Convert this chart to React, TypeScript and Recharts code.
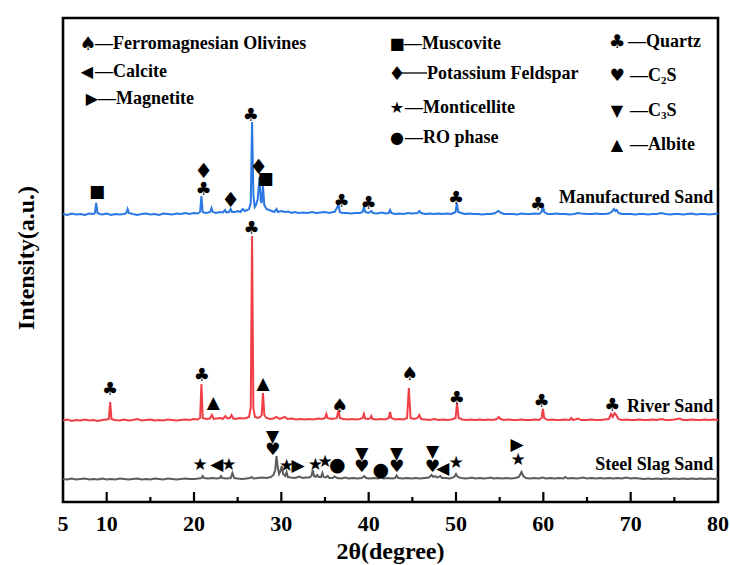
import React from 'react';
import {
  LineChart,
  Line,
  XAxis,
  YAxis,
  ReferenceDot,
  ReferenceArea,
  Customized,
} from 'recharts';

type Pt = [number, number];
type Mark = [number, number, string];

const SERIF = '"Liberation Serif", "Times New Roman", serif';
const SYMBOL_FONT = '"DejaVu Sans", sans-serif';

// 2θ axis
const TWO_THETA_TICKS = [5, 10, 15, 20, 25, 30, 35, 40, 45, 50, 55, 60, 65, 70, 75, 80];
const LABELLED_TICKS = [5, 10, 20, 30, 40, 50, 60, 70, 80];

// vertical stacking of the three patterns (a.u.)
const OFFSET_STEEL = 22;
const OFFSET_RIVER = 81;
const OFFSET_MANUFACTURED = 287;
const INTENSITY_MAX = 484;

// Manufactured sand pattern: [2θ, intensity]
const manufacturedSand: Pt[] = [
  [5, 1], [5.5, 0], [6, 1.5], [6.5, 0.5], [7, 1], [7.5, 0], [8, 1.5], [8.5, 1], [8.65, 2], [8.8, 12], [8.95, 2],
  [9.2, 1], [9.5, 0.5], [10, 1.5], [10.5, 0], [11, 1], [11.5, 0.5], [12, 1], [12.25, 2], [12.4, 6], [12.55, 2],
  [13, 1], [13.5, 0], [14, 1], [14.5, 1.5], [15, 0.5], [15.5, 1], [16, 0], [16.5, 1.5], [17, 1], [17.5, 0.5],
  [18, 1.5], [18.5, 1], [19, 2], [19.5, 1], [20, 2], [20.4, 1.5], [20.7, 3], [20.85, 19], [21, 3], [21.3, 2],
  [21.6, 2.5], [21.85, 3], [22.0, 7], [22.15, 3], [22.5, 2], [23, 3], [23.3, 2.5], [23.55, 5], [23.7, 2.5],
  [24.0, 3], [24.2, 6], [24.35, 3], [24.7, 3], [25, 4], [25.3, 3], [25.6, 6], [25.8, 4], [26.1, 5], [26.3, 6],
  [26.5, 12], [26.65, 93], [26.8, 20], [26.95, 8], [27.1, 10], [27.3, 16], [27.5, 38], [27.65, 14], [27.75, 12],
  [27.9, 29], [28.05, 10], [28.3, 6], [28.6, 5], [28.9, 4], [29.2, 3], [29.45, 6], [29.6, 3], [30, 4], [30.4, 3],
  [30.8, 3.5], [31.2, 2], [31.5, 3], [32, 2], [32.5, 2.5], [33, 2], [33.5, 3], [34, 2], [34.5, 2.5], [35, 3],
  [35.5, 2], [35.9, 3], [36.1, 3], [36.55, 10], [36.7, 3], [37, 2], [37.5, 2], [38, 1.5], [38.5, 2], [39, 2],
  [39.3, 3], [39.45, 8], [39.6, 3], [40, 2], [40.3, 4], [40.5, 2], [41, 1.5], [41.5, 2.5], [42, 1.5], [42.3, 2],
  [42.45, 5], [42.6, 2], [43, 1], [43.5, 1.5], [44, 1], [44.5, 2], [45, 1.5], [45.6, 2], [45.8, 4], [46, 2],
  [46.5, 1], [47, 1.5], [47.5, 1], [48, 1.5], [48.5, 1], [49, 1.5], [49.5, 1], [49.95, 3], [50.1, 12], [50.25, 3],
  [50.6, 2], [51, 1], [51.5, 1.5], [52, 1], [52.5, 1], [53, 0.5], [53.5, 1], [54, 1], [54.5, 2], [54.85, 4],
  [55.2, 2], [55.5, 1], [56, 1], [56.5, 1], [57, 0.5], [57.5, 1.5], [58, 1], [58.5, 1], [59, 1.5], [59.5, 1],
  [59.8, 3], [59.95, 9], [60.1, 3], [60.5, 1], [61, 1], [61.5, 1.5], [62, 1], [62.5, 1], [63, 0.5], [63.5, 1],
  [64, 2], [64.3, 1.5], [65, 1], [65.5, 1], [66, 1.5], [66.5, 1], [67, 1], [67.5, 1.5], [67.8, 3], [68.1, 6],
  [68.25, 4], [68.4, 5], [68.6, 2], [69, 1], [69.5, 1], [70, 1], [70.5, 0.5], [71, 1], [71.5, 1], [72, 0.5],
  [72.5, 1], [73, 1], [73.5, 2], [74, 1], [74.5, 0.5], [75, 1], [75.5, 1], [76, 0.5], [76.5, 1], [77, 1.5],
  [77.5, 0.5], [78, 1], [78.5, 1], [79, 0.5], [79.5, 1], [80, 1.5],
];

// River sand pattern: [2θ, intensity]
const riverSand: Pt[] = [
  [5, 0.5], [5.5, 1.5], [6, 0], [6.5, 1], [7, 0.5], [7.5, 1.5], [8, 0.5], [8.5, 1], [9, 0], [9.5, 1], [10, 1.5],
  [10.25, 2], [10.4, 19], [10.55, 2], [10.9, 1], [11.5, 0.5], [12, 1.5], [12.5, 0.5], [13, 1], [13.5, 2], [14, 0.5],
  [14.5, 1], [15, 1.5], [15.5, 0.5], [16, 1], [16.5, 0.5], [17, 1.5], [17.5, 1], [18, 0.5], [18.5, 1], [19, 1.5],
  [19.5, 1], [20, 2], [20.4, 1.5], [20.7, 3], [20.85, 37], [21.0, 3], [21.4, 2], [21.8, 2.5], [22.05, 6],
  [22.25, 2], [22.6, 2.5], [23, 3], [23.3, 2], [23.6, 5], [23.8, 2.5], [24.1, 3], [24.3, 6], [24.5, 2.5],
  [24.8, 2], [25.2, 3], [25.6, 2.5], [26.0, 3], [26.3, 4], [26.5, 14], [26.65, 185], [26.8, 12], [27.0, 4],
  [27.3, 3], [27.6, 4], [27.75, 6], [27.9, 28], [28.05, 6], [28.3, 3], [28.7, 2], [29.1, 2.5], [29.45, 4],
  [29.8, 2], [30.1, 3], [30.4, 4], [30.7, 2], [31.2, 2.5], [31.7, 1.5], [32.2, 2], [32.7, 1.5], [33.2, 2],
  [33.7, 1.5], [34.2, 2.5], [34.7, 2], [35.0, 3], [35.15, 7], [35.3, 3], [35.7, 2], [36.1, 2.5], [36.35, 3],
  [36.55, 11], [36.7, 3], [37.1, 2], [37.6, 1.5], [38.1, 2], [38.6, 1.5], [39.0, 2], [39.3, 3], [39.45, 7],
  [39.6, 2.5], [40.0, 2], [40.2, 3], [40.3, 5], [40.45, 2], [40.9, 1.5], [41.4, 2], [41.9, 1.5], [42.3, 3],
  [42.45, 9], [42.6, 3], [43.0, 1.5], [43.5, 2], [44.0, 1.5], [44.4, 3], [44.6, 33], [44.8, 3], [45.2, 2],
  [45.6, 3], [45.8, 6], [46.0, 2], [46.5, 1.5], [47, 1], [47.5, 2], [48, 1], [48.5, 1.5], [49, 1], [49.5, 1.5],
  [49.95, 3], [50.12, 18], [50.3, 3], [50.7, 1.5], [51.2, 1], [51.7, 1.5], [52.2, 1], [52.7, 1.5], [53.2, 1],
  [53.7, 1.5], [54.2, 1], [54.7, 2], [54.9, 4], [55.1, 2], [55.5, 1], [56, 1.5], [56.5, 1], [57, 1], [57.5, 1.5],
  [58, 1], [58.5, 1], [59, 1.5], [59.5, 1], [59.8, 3], [59.95, 12], [60.1, 3], [60.5, 1], [61, 1.5], [61.5, 1],
  [62, 1], [62.5, 1.5], [63.0, 1], [63.2, 3], [63.4, 1], [64.0, 2.5], [64.3, 1], [65, 1], [65.5, 1.5], [66, 1],
  [66.5, 1], [67, 1.5], [67.5, 2], [67.75, 7], [67.95, 4], [68.15, 8], [68.35, 6], [68.6, 2], [69, 1],
  [69.5, 1.5], [70, 1], [70.5, 1], [71, 1.5], [71.5, 1], [72, 1], [72.5, 1.5], [73, 1], [73.5, 2], [74, 1],
  [74.5, 1], [75, 1.5], [75.6, 2.5], [76, 1], [76.5, 1], [77, 1.5], [77.5, 1], [78, 1], [78.5, 1.5], [79, 1],
  [79.5, 1.5], [80, 1],
];

// Steel slag sand pattern: [2θ, intensity]
const steelSlagSand: Pt[] = [
  [5, 1], [5.5, 0.5], [6, 1.5], [6.5, 0.5], [7, 1], [7.5, 1.5], [8, 0.5], [8.5, 1], [9, 0.5], [9.5, 1.5],
  [10, 0.5], [10.5, 1], [11, 0.5], [11.5, 1.5], [12, 1], [12.5, 0.5], [13, 1], [13.5, 1.5], [14, 0.5], [14.5, 1],
  [15, 0.5], [15.5, 1.5], [16, 1], [16.5, 0.5], [17, 1.5], [17.5, 1], [18, 0.5], [18.5, 1], [19, 1.5], [19.5, 1],
  [20, 1], [20.5, 1.5], [20.85, 2], [21.0, 4], [21.15, 2], [21.6, 1.5], [22.1, 2], [22.6, 1.5], [22.95, 2],
  [23.1, 4], [23.25, 2], [23.7, 1.5], [24.2, 2], [24.4, 7], [24.6, 2], [25, 1.5], [25.5, 1], [26, 1.5], [26.4, 2],
  [26.6, 3], [26.8, 1.5], [27.3, 2], [27.8, 2.5], [28.3, 2], [28.8, 3], [29.1, 5], [29.3, 10], [29.45, 24],
  [29.6, 12], [29.75, 6], [29.9, 9], [30.05, 14], [30.2, 6], [30.45, 4], [30.6, 8], [30.75, 3], [31.1, 2.5],
  [31.6, 2], [32.1, 3.5], [32.4, 2], [32.8, 2.5], [33.2, 2.5], [33.45, 4], [33.6, 10], [33.75, 4], [33.95, 3],
  [34.1, 5], [34.3, 3], [34.55, 3], [34.7, 7], [34.85, 3], [35.1, 2.5], [35.3, 4], [35.5, 2], [35.9, 2],
  [36.1, 3.5], [36.4, 2], [36.9, 1.5], [37.3, 2.5], [37.7, 1.5], [38.2, 2], [38.7, 1.5], [39.2, 2], [39.5, 4],
  [39.7, 2], [40.1, 1.5], [40.6, 2], [41.1, 1.5], [41.4, 2.5], [41.7, 1.5], [42.2, 2], [42.7, 1.5], [43.05, 2],
  [43.2, 4.5], [43.4, 2], [43.9, 1.5], [44.4, 2], [44.9, 1.5], [45.4, 2], [45.9, 1.5], [46.4, 2], [46.9, 2.5],
  [47.2, 5], [47.4, 3], [47.6, 4], [47.8, 2.5], [48.0, 3], [48.2, 4], [48.4, 2], [48.8, 2], [49.3, 1.5],
  [49.8, 3], [50.0, 6], [50.2, 3], [50.6, 2], [51.1, 1.5], [51.6, 2], [51.8, 2.5], [52.2, 1.5], [52.7, 2],
  [53.2, 1.5], [53.7, 2], [54.0, 2.5], [54.3, 1.5], [54.8, 2], [55.3, 1.5], [55.8, 2], [56.3, 1.5], [56.8, 2],
  [57.2, 3], [57.5, 8], [57.7, 4], [58.0, 2], [58.5, 1.5], [59, 2], [59.5, 1.5], [59.9, 2.5], [60.3, 1.5],
  [60.8, 2], [61.3, 1.5], [61.8, 2], [62.3, 1.5], [62.5, 3], [62.8, 1.5], [63.3, 2], [63.8, 1.5], [64.3, 2],
  [64.5, 2.5], [65, 1.5], [65.5, 2], [66, 1.5], [66.5, 2], [67, 1.5], [67.5, 2], [68, 1.5], [68.5, 2], [69, 1.5],
  [69.5, 2.5], [70, 1.5], [70.5, 2], [71, 1.5], [71.5, 1], [72, 1.5], [72.5, 1], [73, 1.5], [73.5, 1], [74, 1.5],
  [74.5, 1], [75, 1.5], [75.5, 1], [76, 1.5], [76.5, 1], [77, 1.5], [77.5, 1], [78, 1.5], [78.5, 1], [79, 1.5],
  [79.5, 1], [80, 1.5],
];

// Phase markers: [2θ, height above the pattern baseline, symbol]
const manufacturedMarks: Mark[] = [
  [8.9, 24, '■'], [21.1, 44, '♦'], [21.1, 27, '♣'], [24.2, 15, '♦'], [26.5, 101, '♣'], [27.4, 48, '♦'],
  [28.2, 37, '■'], [36.9, 15, '♣'], [40.0, 13, '♣'], [50.0, 18, '♣'], [59.4, 12, '♣'],
];
const riverMarks: Mark[] = [
  [10.4, 33, '♣'], [20.9, 47, '♣'], [22.2, 19, '▲'], [26.6, 194, '♣'], [27.9, 38, '▲'], [36.7, 16, '♠'],
  [44.7, 48, '♠'], [50.1, 24, '♣'], [59.8, 21, '♣'], [67.9, 17, '♣'],
];
const steelMarks: Mark[] = [
  [20.7, 16, '★'], [22.6, 16, '◀'], [24.0, 16, '★'], [29.0, 44, '▼'], [29.0, 31, '♥'], [30.6, 15, '★'],
  [31.9, 15, '▶'], [33.9, 16, '★'], [35.0, 19, '★'], [36.4, 16, '●'], [39.2, 27, '▼'], [39.2, 14, '♥'],
  [41.4, 11, '●'], [43.2, 27, '▼'], [43.2, 14, '♥'], [47.3, 29, '▼'], [47.3, 14, '♥'], [48.5, 12, '◀'],
  [50.0, 18, '★'], [57.0, 36, '▶'], [57.1, 21, '★'],
];

// Phase key
const PHASE_KEY = [
  { sym: '♠', name: 'Ferromagnesian Olivines', sx: 88, tx: 95, y: 43 },
  { sym: '◀', name: 'Calcite', sx: 87, tx: 95, y: 71 },
  { sym: '▶', name: 'Magnetite', sx: 92, tx: 98, y: 98 },
  { sym: '■', name: 'Muscovite', sx: 397, tx: 404, y: 43 },
  { sym: '♦', name: 'Potassium Feldspar', sx: 397, tx: 402, y: 73, long: true },
  { sym: '★', name: 'Monticellite', sx: 397, tx: 405, y: 107 },
  { sym: '●', name: 'RO phase', sx: 397, tx: 405, y: 137 },
  { sym: '♣', name: 'Quartz', sx: 617, tx: 628, y: 41 },
  { sym: '♥', name: 'C', sub: '2', tail: 'S', sx: 617, tx: 630, y: 75 },
  { sym: '▼', name: 'C', sub: '3', tail: 'S', sx: 617, tx: 630, y: 110 },
  { sym: '▲', name: 'Albite', sx: 617, tx: 630, y: 144 },
];

const SERIES = [
  { name: 'Manufactured Sand', pts: manufacturedSand, marks: manufacturedMarks, offset: OFFSET_MANUFACTURED, color: '#2a78e4', nameH: 18 },
  { name: 'River Sand', pts: riverSand, marks: riverMarks, offset: OFFSET_RIVER, color: '#ef3f45', nameH: 15 },
  { name: 'Steel Slag Sand', pts: steelSlagSand, marks: steelMarks, offset: OFFSET_STEEL, color: '#5c5c5c', nameH: 16 },
];

const SYMBOL_SIZE: Record<string, number> = { '♦': 21, '♠': 19, '●': 19, '♣': 18 };
const KEY_SYMBOL_SIZE: Record<string, number> = { '♦': 19, '♠': 19, '♣': 19, '♥': 17 };

const toRows = (pts: Pt[], offset: number) => pts.map(([t, v]) => ({ t, v: v + offset }));

const symbolShape = (sym: string) => (p: any) => (
  <text
    x={p.cx}
    y={p.cy}
    textAnchor="middle"
    dominantBaseline="central"
    fontFamily={SYMBOL_FONT}
    fontSize={SYMBOL_SIZE[sym] ?? 17}
    fill="#000"
  >
    {sym}
  </text>
);

const nameShape = (name: string) => (p: any) => (
  <text
    x={p.cx}
    y={p.cy}
    textAnchor="end"
    dominantBaseline="central"
    fontFamily={SERIF}
    fontWeight={700}
    fontSize={18}
    fill="#000"
  >
    {name}
  </text>
);

const AxisTick = (props: any) => {
  const { x, y, payload } = props;
  const v = payload.value as number;
  const major = v % 10 === 0;
  const edge = v === 5 || v === 80;
  return (
    <g>
      {!edge && (
        <line x1={x} x2={x} y1={y} y2={y - (major ? 10 : 5)} stroke="#000" strokeWidth={2.2} />
      )}
      {LABELLED_TICKS.includes(v) && (
        <text
          x={x}
          y={y + 29}
          textAnchor="middle"
          fontFamily={SERIF}
          fontWeight={700}
          fontSize={22}
          fill="#000"
        >
          {v}
        </text>
      )}
    </g>
  );
};

const Decorations = () => (
  <g>
    <text
      x={26}
      y={258}
      transform="rotate(-90, 26, 258)"
      textAnchor="middle"
      dominantBaseline="central"
      fontFamily={SERIF}
      fontWeight={700}
      fontSize={24}
      fill="#000"
    >
      Intensity(a.u.)
    </text>
    {PHASE_KEY.map((k) => (
      <g key={k.sym + k.name}>
        <text
          x={k.sx}
          y={k.y}
          textAnchor="middle"
          dominantBaseline="central"
          fontFamily={SYMBOL_FONT}
          fontSize={KEY_SYMBOL_SIZE[k.sym] ?? 16}
          fill="#000"
        >
          {k.sym}
        </text>
        {k.long && (
          <line x1={k.tx} x2={k.tx + 25} y1={k.y} y2={k.y} stroke="#000" strokeWidth={1.3} />
        )}
        <text
          x={k.long ? k.tx + 25 : k.tx}
          y={k.y}
          dominantBaseline="central"
          fontFamily={SERIF}
          fontWeight={700}
          fontSize={18}
          fill="#000"
        >
          {k.long ? '' : '—'}
          {k.name}
          {k.sub && (
            <tspan fontSize={11} dy={5}>
              {k.sub}
            </tspan>
          )}
          {k.tail && <tspan dy={-5}>{k.tail}</tspan>}
        </text>
      </g>
    ))}
  </g>
);

export default function App() {
  return (
    <div style={{ position: 'absolute', left: 0, top: 0, background: '#fff' }}>
      <LineChart
        width={730}
        height={565}
        margin={{ top: 18, right: 12, bottom: 0, left: 63 }}
      >
        <XAxis
          dataKey="t"
          type="number"
          domain={[5, 80]}
          ticks={TWO_THETA_TICKS}
          interval={0}
          allowDataOverflow
          axisLine={false}
          tickLine={false}
          tickSize={0}
          tickMargin={0}
          height={63}
          tick={<AxisTick />}
          label={{
            value: '2θ(degree)',
            position: 'insideBottom',
            offset: 6,
            style: { fontFamily: SERIF, fontWeight: 700, fontSize: 24, fill: '#000' },
          }}
        />
        <YAxis type="number" domain={[0, INTENSITY_MAX]} hide allowDataOverflow />
        {SERIES.map((s) => (
          <Line
            key={s.name}
            data={toRows(s.pts, s.offset)}
            dataKey="v"
            type="linear"
            dot={false}
            activeDot={false}
            stroke={s.color}
            strokeWidth={2}
            isAnimationActive={false}
          />
        ))}
        {SERIES.flatMap((s) =>
          s.marks.map(([t, h, sym], i) => (
            <ReferenceDot
              key={s.name + i}
              x={t}
              y={s.offset + h}
              r={0}
              ifOverflow="visible"
              shape={symbolShape(sym)}
            />
          ))
        )}
        {SERIES.map((s) => (
          <ReferenceDot
            key={s.name + '-name'}
            x={79.45}
            y={s.offset + s.nameH}
            r={0}
            ifOverflow="visible"
            shape={nameShape(s.name)}
          />
        ))}
        <ReferenceArea
          x1={5}
          x2={80}
          y1={0}
          y2={INTENSITY_MAX}
          fill="none"
          fillOpacity={0}
          stroke="#000"
          strokeWidth={2.6}
          ifOverflow="visible"
        />
        <Customized component={<Decorations />} />
      </LineChart>
    </div>
  );
}
